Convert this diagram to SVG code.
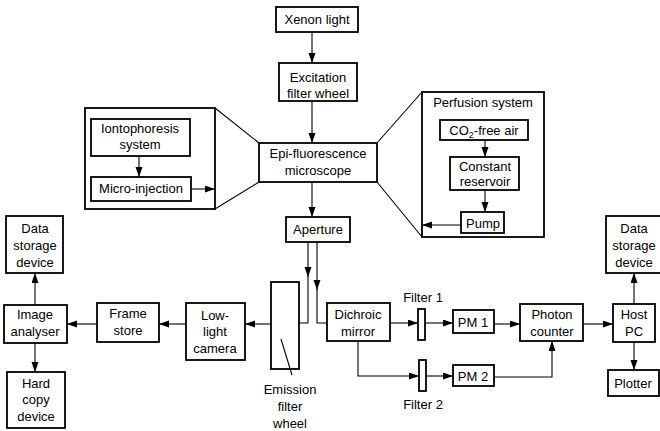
<svg xmlns="http://www.w3.org/2000/svg" width="660" height="431" viewBox="0 0 660 431">
  <defs>
    <marker id="arrow" markerUnits="userSpaceOnUse" markerWidth="11" markerHeight="8" refX="10" refY="3.5" orient="auto">
      <path d="M0,0 L10,3.5 L0,7 z" fill="#000"/>
    </marker>
  </defs>
  <style>
    .box { fill: #fff; stroke: #000; stroke-width: 1.8; }
    .thin { fill: none; stroke: #000; stroke-width: 1.1; }
    .con { fill: none; stroke: #000; stroke-width: 1.1; marker-end: url(#arrow); }
    text { font-family: "Liberation Sans", Arial, Helvetica, sans-serif; font-size: 13px; fill: #000; text-anchor: middle; }
  </style>
  <rect width="660" height="431" fill="#fff"/>

  <!-- zoom-out inset frames and their leader lines -->
  <g id="inset-lines">
    <path class="thin" d="M215 108 L259 143 M215 209 L259 182"/>
    <path class="thin" d="M422 92 L377 143 M422 237 L377 182"/>
  </g>

  <g id="injection-inset">
    <rect class="box" x="85" y="108" width="130" height="101"/>
  </g>
  <g id="iontophoresis">
    <rect class="box" x="91" y="119" width="99" height="37"/>
    <text x="140" y="133">Iontophoresis</text>
    <text x="140" y="149">system</text>
  </g>
  <g id="micro-injection">
    <rect class="box" x="91" y="177" width="100" height="24"/>
    <text x="141" y="193">Micro-injection</text>
  </g>

  <g id="perfusion-system">
    <rect class="box" x="422" y="92" width="122" height="145"/>
    <text x="483" y="107">Perfusion system</text>
  </g>
  <g id="co2-free-air">
    <rect class="box" x="440" y="120" width="88" height="20"/>
    <text x="484" y="135">CO<tspan font-size="9" dy="3">2</tspan><tspan dy="-3">-free air</tspan></text>
  </g>
  <g id="reservoir">
    <rect class="box" x="450" y="157" width="69" height="33"/>
    <text x="485" y="171">Constant</text>
    <text x="485" y="186">reservoir</text>
  </g>
  <g id="pump">
    <rect class="box" x="461" y="212" width="43" height="21"/>
    <text x="483" y="228">Pump</text>
  </g>

  <g id="xenon-light">
    <rect class="box" x="276" y="7" width="82" height="25"/>
    <text x="317" y="24">Xenon light</text>
  </g>
  <g id="excitation-filter">
    <rect class="box" x="279" y="63" width="78" height="38"/>
    <text x="318" y="82">Excitation</text>
    <text x="318" y="98">filter wheel</text>
  </g>
  <g id="microscope">
    <rect class="box" x="259" y="143" width="118" height="39"/>
    <text x="318" y="158">Epi-fluorescence</text>
    <text x="318" y="175">microscope</text>
  </g>
  <g id="aperture">
    <rect class="box" x="286" y="217" width="64" height="25"/>
    <text x="318" y="234">Aperture</text>
  </g>

  <g id="emission-filter">
    <rect class="box" x="271" y="282" width="28" height="87"/>
    <path class="thin" d="M281 339 L292 375"/>
    <text x="290" y="394">Emission</text>
    <text x="290" y="411">filter</text>
    <text x="290" y="428">wheel</text>
  </g>
  <g id="camera">
    <rect class="box" x="186" y="303" width="59" height="57"/>
    <text x="215" y="320">Low-</text>
    <text x="215" y="336">light</text>
    <text x="215" y="353">camera</text>
  </g>
  <g id="frame-store">
    <rect class="box" x="97" y="303" width="62" height="39"/>
    <text x="128" y="318">Frame</text>
    <text x="128" y="335">store</text>
  </g>
  <g id="image-analyser">
    <rect class="box" x="4" y="305" width="63" height="38"/>
    <text x="35" y="319">Image</text>
    <text x="35" y="336">analyser</text>
  </g>
  <g id="storage-left">
    <rect class="box" x="6" y="216" width="57" height="57"/>
    <text x="35" y="233">Data</text>
    <text x="35" y="250">storage</text>
    <text x="35" y="267">device</text>
  </g>
  <g id="hard-copy">
    <rect class="box" x="7" y="372" width="58" height="56"/>
    <text x="36" y="388">Hard</text>
    <text x="36" y="404">copy</text>
    <text x="36" y="421">device</text>
  </g>

  <g id="dichroic">
    <rect class="box" x="327" y="303" width="63" height="38"/>
    <text x="358" y="319">Dichroic</text>
    <text x="358" y="336">mirror</text>
  </g>
  <g id="filter-1">
    <rect class="box" x="418" y="309" width="7" height="31"/>
    <text x="423" y="302">Filter 1</text>
  </g>
  <g id="filter-2">
    <rect class="box" x="419" y="360" width="7" height="31"/>
    <text x="423" y="409">Filter 2</text>
  </g>
  <g id="pm-1">
    <rect class="box" x="453" y="310" width="41" height="23"/>
    <text x="473" y="327">PM 1</text>
  </g>
  <g id="pm-2">
    <rect class="box" x="453" y="365" width="41" height="21"/>
    <text x="473" y="381">PM 2</text>
  </g>
  <g id="photon-counter">
    <rect class="box" x="520" y="304" width="63" height="37"/>
    <text x="552" y="319">Photon</text>
    <text x="552" y="336">counter</text>
  </g>
  <g id="host-pc">
    <rect class="box" x="613" y="304" width="42" height="38"/>
    <text x="634" y="319">Host</text>
    <text x="634" y="336">PC</text>
  </g>
  <g id="storage-right">
    <rect class="box" x="606" y="216" width="58" height="57"/>
    <text x="634" y="233">Data</text>
    <text x="634" y="250">storage</text>
    <text x="634" y="267">device</text>
  </g>
  <g id="plotter">
    <rect class="box" x="608" y="370" width="51" height="26"/>
    <text x="633" y="388">Plotter</text>
  </g>

  <g id="connectors">
    <!-- excitation light path -->
    <path class="con" d="M312 32 V63"/>
    <path class="con" d="M312 101 V143"/>
    <path class="con" d="M312 182 V217"/>
    <!-- emission split after the aperture -->
    <path class="con" d="M308 242 V277"/>
    <path class="thin" d="M308 276 V323 H299"/>
    <path class="con" d="M317 242 V290"/>
    <path class="thin" d="M317 289 V323 H327"/>
    <!-- imaging branch -->
    <path class="con" d="M271 324 H245"/>
    <path class="con" d="M186 324 H159"/>
    <path class="con" d="M97 324 H67"/>
    <path class="con" d="M35 305 V273"/>
    <path class="con" d="M35 343 V372"/>
    <!-- photometry branch -->
    <path class="con" d="M390 323 H418"/>
    <path class="con" d="M425 323 H453"/>
    <path class="con" d="M358 341 V376 H419"/>
    <path class="con" d="M426 376 H453"/>
    <path class="con" d="M494 324 H520"/>
    <path class="con" d="M494 377 H552 V341"/>
    <path class="con" d="M583 324 H613"/>
    <path class="con" d="M634 304 V273"/>
    <path class="con" d="M634 342 V370"/>
    <!-- inset internals -->
    <path class="con" d="M139 156 V177"/>
    <path class="con" d="M191 189 H215"/>
    <path class="con" d="M485 140 V157"/>
    <path class="con" d="M485 190 V212"/>
    <path class="con" d="M461 225 H422"/>
  </g>
</svg>
